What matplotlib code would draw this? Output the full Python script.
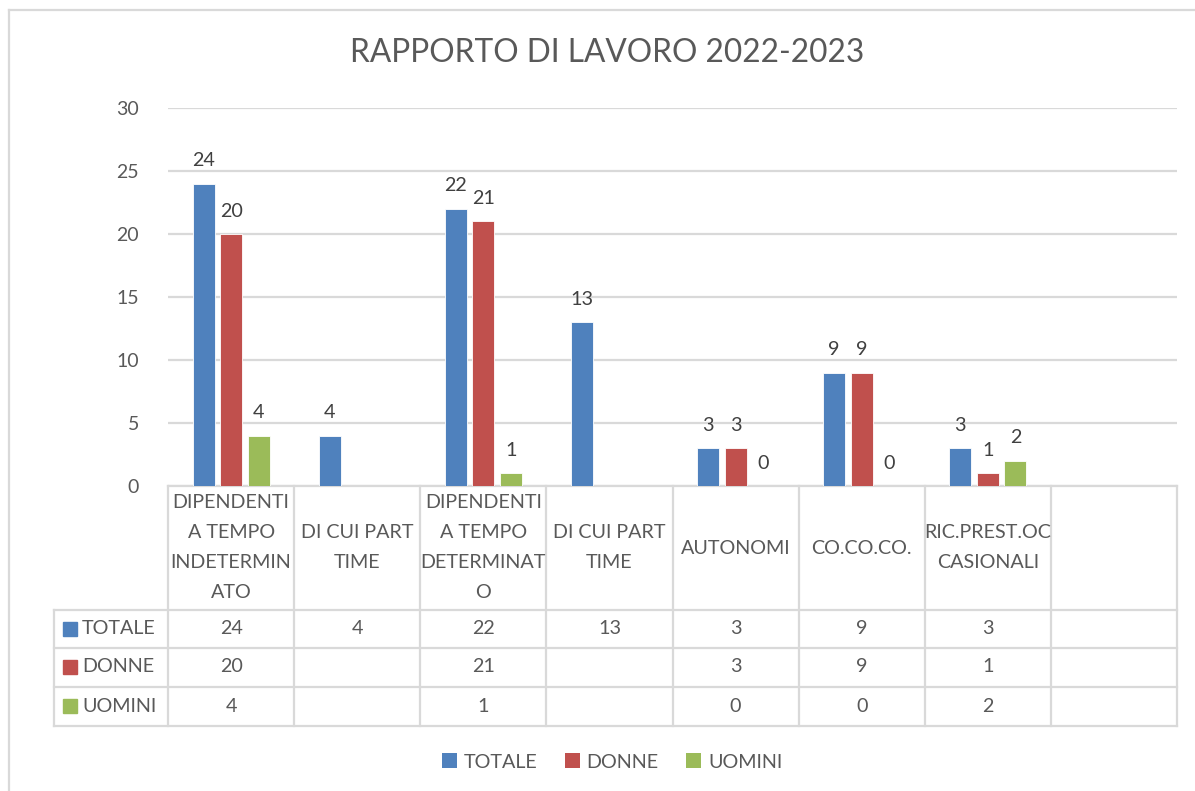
import numpy as np
import matplotlib
matplotlib.use("Agg")
import matplotlib.pyplot as plt
import matplotlib.transforms as mtransforms
from matplotlib.patches import Patch

plt.rcParams['font.family'] = ['Lato', 'DejaVu Sans']

title = "RAPPORTO DI LAVORO 2022-2023"
categories = [
    ["DIPENDENTI", "A TEMPO", "INDETERMIN", "ATO"],
    ["DI CUI PART", "TIME"],
    ["DIPENDENTI", "A TEMPO", "DETERMINAT", "O"],
    ["DI CUI PART", "TIME"],
    ["AUTONOMI"],
    ["CO.CO.CO."],
    ["RIC.PREST.OC", "CASIONALI"],
    [""],
]
series_names = ["TOTALE", "DONNE", "UOMINI"]
totale = [24, 4, 22, 13, 3, 9, 3, None]
donne = [20, None, 21, None, 3, 9, 1, None]
uomini = [4, None, 1, None, 0, 0, 2, None]
series_values = [totale, donne, uomini]
colors = ["#4F81BD", "#C0504D", "#9BBB59"]
yticks = [0, 5, 10, 15, 20, 25, 30]

W, H = 1195, 791
fig = plt.figure(figsize=(W / 100, H / 100), dpi=100)

# overlay axes in pixel coordinates for table/frame
ov = fig.add_axes([0, 0, 1, 1])
ov.set_xlim(0, W)
ov.set_ylim(H, 0)
ov.axis("off")

px_l, px_r, px_t, px_b = 168, 1177, 108, 486
ax = fig.add_axes([px_l / W, 1 - px_b / H, (px_r - px_l) / W, (px_b - px_t) / H])
n = len(categories)
ax.set_xlim(-0.5, n - 0.5)
ax.set_ylim(0, 30)
ax.set_yticks(yticks)
ax.set_xticks([])
for s in ax.spines.values():
    s.set_visible(False)
ax.tick_params(axis="y", length=0, pad=21, labelsize=14, labelcolor="#595959")
ax.yaxis.grid(True, color="#D9D9D9", linewidth=1.6)
ax.set_axisbelow(True)
ax.patch.set_alpha(0)

gray_txt = "#595959"
step = 27.5 / 126
width = 22 / 126
x = np.arange(n)
for i, (vals, col) in enumerate(zip(series_values, colors)):
    for j, v in enumerate(vals):
        if v is None:
            continue
        xc = j + (i - 1) * step
        ax.bar(xc, v, width=width, color=col, edgecolor="white", linewidth=0.6, zorder=3)
        ax.annotate(str(v), (xc, v), xytext=(0, 12.5), textcoords="offset points",
                    ha="center", va="baseline", fontsize=14.2, color="#404040")

# title
ov.text(W / 2 + 10, 53, title, ha="center", va="center", fontsize=22.8, color=gray_txt)

# table
blend = mtransforms.blended_transform_factory(ax.transData, ov.transData)
lc = "#D9D9D9"
lw = 1.6
rows_y = [486, 610, 648, 687, 726]
ov.plot([px_l, px_r], [486, 486], color=lc, lw=lw)
for yy in rows_y[1:]:
    ov.plot([54, px_r], [yy, yy], color=lc, lw=lw)
ov.plot([54, 54], [610, 726], color=lc, lw=lw)
for k in range(n + 1):
    ov.plot([k - 0.5, k - 0.5], [486, 726], color=lc, lw=lw, transform=blend)

hdr_c = 548
lsp = 30
for j, lines in enumerate(categories):
    m = len(lines)
    for li, t in enumerate(lines):
        yy = hdr_c + (li - (m - 1) / 2) * lsp
        ov.text(j, yy, t, ha="center", va="center", fontsize=14.2, color=gray_txt, transform=blend)

row_c = [629, 667, 706]
for i, (name, vals, col) in enumerate(zip(series_names, series_values, colors)):
    yc = row_c[i]
    ov.add_patch(plt.Rectangle((63, yc - 7), 14, 14, color=col))
    ov.text(82, yc, name, ha="left", va="center", fontsize=14.2, color=gray_txt)
    for j, v in enumerate(vals):
        if v is None:
            continue
        ov.text(j, yc, str(v), ha="center", va="center", fontsize=14.2, color=gray_txt, transform=blend)

# legend
handles = [Patch(facecolor=c, edgecolor="none", label=nm) for nm, c in zip(series_names, colors)]
fig.legend(handles=handles, loc="center", bbox_to_anchor=(612 / W, 1 - 762 / H), ncol=3,
           frameon=False, fontsize=14.2, labelcolor=gray_txt, handlelength=0.75, handleheight=0.75,
           handletextpad=0.35, columnspacing=1.4)

# outer frame
ov.plot([9, W + 5], [10, 10], color="#D9D9D9", lw=1.6)
ov.plot([9, 9], [10, H + 5], color="#D9D9D9", lw=1.6)

fig.savefig("out.png", dpi=100)
